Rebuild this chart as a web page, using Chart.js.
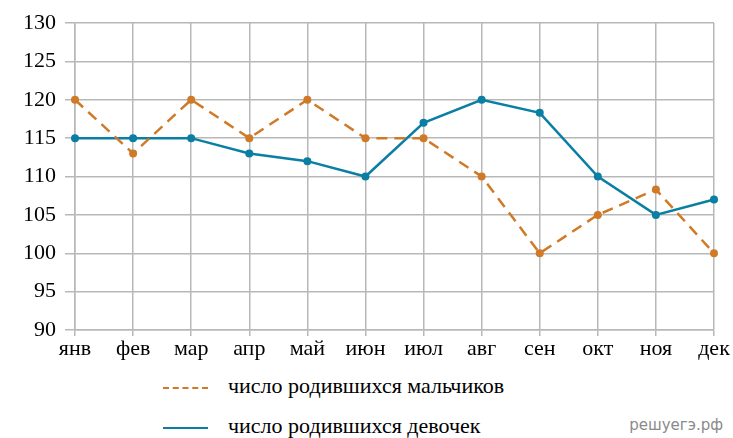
<!DOCTYPE html>
<html>
<head>
<meta charset="utf-8">
<style>
  body { margin: 0; background: #fff; }
  #wrap { position: relative; width: 733px; height: 438px; }
  #box { position: absolute; left: 0; top: 0; width: 733px; height: 366px; }
  .leg { position: absolute; left: 163px; font-size: 22px; color: #000; line-height: 26px; }
  .leg span { display: inline-block; width: 45px; margin-right: 20px; vertical-align: middle; }
  .wm { position: absolute; right: 10px; top: 416px; font-size: 15px; color: #8a8a8a; }
</style>
</head>
<body>
<div id="wrap">
  <div id="box"><canvas id="grafica"></canvas></div>
  <div class="leg" style="top:373px;font-family:'Liberation Serif' !important"><span style="border-top:2.5px dashed #d07a27"></span>число родившихся мальчиков</div>
  <div class="leg" style="top:413px;font-family:'Liberation Serif' !important"><span style="border-top:2.5px solid #0a7fa3"></span>число родившихся девочек</div>
  <div class="wm" style="font-family:'DejaVu Sans' !important">решуегэ.рф</div>
</div>
<script src="https://cdn.jsdelivr.net/npm/chart.js@4"></script>
<script>
const meses = ['янв', 'фев', 'мар', 'апр', 'май', 'июн', 'июл', 'авг', 'сен', 'окт', 'ноя', 'дек'];
const ninos = [120, 113, 120, 115, 120, 115, 115, 110, 100, 105, 108.3, 100];
const ninas = [115, 115, 115, 113, 112, 110, 117, 120, 118.3, 110, 105, 107];
const yMin = 90, yMax = 130, yPaso = 5;

const fuente = { family: 'Liberation Serif', size: 22 };

new Chart(document.getElementById('grafica').getContext('2d'), {
  type: 'line',
  data: {
    labels: meses,
    datasets: [
      {
        label: 'число родившихся мальчиков',
        data: ninos,
        borderColor: '#d07a27',
        backgroundColor: '#d07a27',
        borderWidth: 2.5,
        borderDash: [11, 7],
        pointRadius: 4,
        pointBorderWidth: 0,
        tension: 0
      },
      {
        label: 'число родившихся девочек',
        data: ninas,
        borderColor: '#0a7fa3',
        backgroundColor: '#0a7fa3',
        borderWidth: 2.5,
        pointRadius: 4,
        pointBorderWidth: 0,
        tension: 0
      }
    ]
  },
  options: {
    responsive: true,
    maintainAspectRatio: false,
    animation: false,
    layout: { padding: { left: 0, right: 19, top: 23, bottom: 0 } },
    plugins: { legend: { display: false }, tooltip: { enabled: false } },
    scales: {
      x: {
        offset: false,
        grid: { color: '#b8b8b8', lineWidth: 1.5, tickLength: 6 },
        border: { color: '#b8b8b8', width: 1.5 },
        ticks: { color: '#000', font: fuente, padding: 0, maxRotation: 0 },
        afterFit: (eje) => { eje.height = 36; }
      },
      y: {
        min: yMin,
        max: yMax,
        grid: { color: '#b8b8b8', lineWidth: 1.5, tickLength: 10 },
        border: { color: '#b8b8b8', width: 1.5 },
        ticks: { stepSize: yPaso, color: '#000', font: fuente, padding: 9 },
        afterFit: (eje) => { eje.width = 75; }
      }
    }
  }
});
</script>
</body>
</html>
